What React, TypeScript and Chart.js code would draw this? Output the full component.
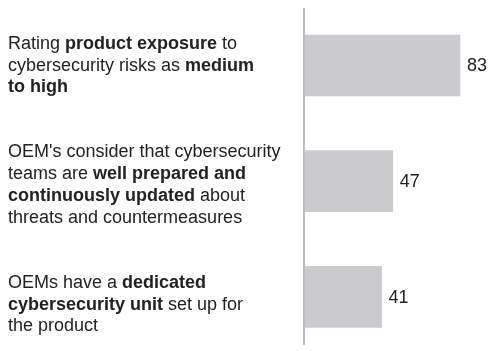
import React, { useEffect, useRef } from "react";
import { Chart, registerables } from "chart.js";

Chart.register(...registerables);

// Category texts, one string per line; **...** marks bold runs
const categories: string[][] = [
  ["Rating **product exposure** to", "cybersecurity risks as **medium**", "**to high**"],
  [
    "OEM's consider that cybersecurity",
    "teams are **well prepared and**",
    "**continuously updated** about",
    "threats and countermeasures",
  ],
  ["OEMs have a **dedicated**", "**cybersecurity unit** set up for", "the product"],
];
const values: number[] = [83, 47, 41];

const FONT_FAMILY = '"Liberation Sans", Arial, Helvetica, sans-serif';
const TEXT_COLOR = "#222222";

const labelPlugin = {
  id: "richLabels",
  afterDraw(chart: any) {
    const ctx = chart.ctx as CanvasRenderingContext2D;
    const yScale = chart.scales.y;
    const area = chart.chartArea;
    ctx.save();
    // axis line
    ctx.strokeStyle = "#a9a9a9";
    ctx.lineWidth = 1.5;
    ctx.beginPath();
    ctx.moveTo(area.left - 1, area.top);
    ctx.lineTo(area.left - 1, area.bottom);
    ctx.stroke();

    ctx.fillStyle = TEXT_COLOR;
    ctx.textBaseline = "alphabetic";
    ctx.textAlign = "left";
    const lh = 21.8;
    const capHalf = 6.5;
    const mid = (categories.length - 1) / 2;
    categories.forEach((lines, i) => {
      const cy = yScale.getPixelForValue(i) + (i - mid) * 3.8 + 2.5;
      const firstBase = cy - ((lines.length - 1) * lh) / 2 + capHalf;
      lines.forEach((line, j) => {
        const parts = line.split("**");
        let x = 8;
        const y = firstBase + j * lh;
        parts.forEach((p, k) => {
          ctx.font = `${k % 2 ? "bold " : ""}18px ${FONT_FAMILY}`;
          ctx.fillText(p, x, y);
          x += ctx.measureText(p).width;
        });
      });
    });

    // value labels
    const meta = chart.getDatasetMeta(0);
    ctx.font = `18px ${FONT_FAMILY}`;
    ctx.textBaseline = "middle";
    meta.data.forEach((bar: any, i: number) => {
      ctx.fillText(String(values[i]), bar.x + 7, bar.y + 1);
    });
    ctx.restore();
  },
};

export default function App() {
  const ref = useRef<HTMLCanvasElement | null>(null);
  useEffect(() => {
    if (!ref.current) return;
    const chart = new Chart(ref.current, {
      type: "bar",
      data: {
        datasets: [
          {
            data: values.map((v, i) => ({ x: v, y: i })) as any,
            backgroundColor: "#cbcbcd",
            borderWidth: 0,
            barThickness: 61,
          },
        ],
      },
      options: {
        indexAxis: "y",
        animation: false,
        responsive: false,
        maintainAspectRatio: false,
        layout: { padding: { left: 305, right: 0, top: 8, bottom: 6 } },
        plugins: { legend: { display: false }, tooltip: { enabled: false } },
        scales: {
          x: { type: "linear", min: 0, max: 98, display: false, offset: false },
          y: { type: "linear", min: -0.497, max: 2.416, reverse: true, display: false, offset: false },
        },
      },
      plugins: [labelPlugin],
    });
    return () => chart.destroy();
  }, []);
  return (
    <div style={{ position: "fixed", left: 0, top: 0, width: 488, height: 351, background: "#fff" }}>
      <canvas ref={ref} width={488} height={351} style={{ display: "block" }} />
    </div>
  );
}
